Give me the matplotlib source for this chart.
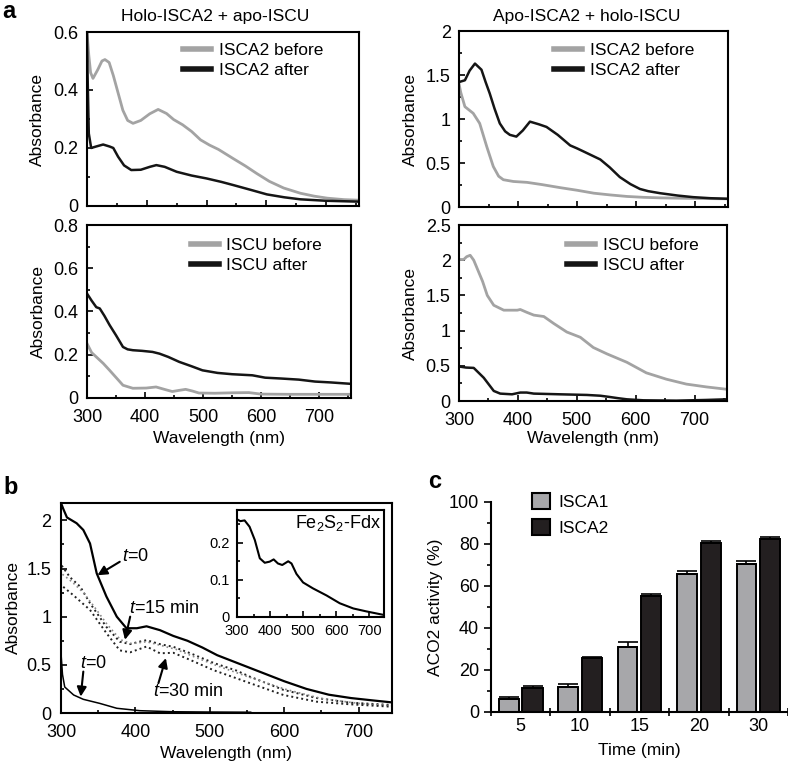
import matplotlib
matplotlib.use('Agg')
from matplotlib import pyplot as plt
from matplotlib.ticker import MultipleLocator, FuncFormatter
from matplotlib.patches import Patch
import numpy as np

plt.rcParams['font.family'] = ['Liberation Sans', 'DejaVu Sans']
plt.rcParams['mathtext.fontset'] = 'custom'
plt.rcParams['mathtext.rm'] = 'Liberation Sans'
plt.rcParams['mathtext.it'] = 'Liberation Sans:italic'
plt.rcParams['font.size'] = 12.5

############################################################################
# Data
############################################################################

# a, top left: holo-ISCA2 + apo-ISCU, ISCA2 spectra
tl_wl_before = [300, 303, 306, 310, 318, 325, 330, 337, 344, 352, 360, 368, 377, 390, 405, 419,
                433, 445, 460, 475, 490, 505, 520, 545, 565, 584, 605, 629, 657, 680, 702, 730, 755]
tl_before = [0.60, 0.52, 0.46, 0.44, 0.47, 0.50, 0.505, 0.495, 0.45, 0.39, 0.33, 0.295, 0.285, 0.295,
             0.318, 0.333, 0.319, 0.298, 0.28, 0.257, 0.228, 0.21, 0.195, 0.163, 0.138, 0.112, 0.085,
             0.062, 0.044, 0.034, 0.027, 0.022, 0.02]
tl_wl_after = [300, 301, 303, 307, 315, 327, 338, 344, 352, 362, 374, 390, 405, 416, 430, 450, 475,
               500, 525, 545, 575, 601, 630, 657, 700, 755]
tl_after = [0.60, 0.45, 0.25, 0.20, 0.205, 0.212, 0.205, 0.20, 0.17, 0.14, 0.124, 0.125, 0.135, 0.141,
            0.135, 0.118, 0.105, 0.095, 0.083, 0.072, 0.055, 0.04, 0.03, 0.023, 0.018, 0.015]

# a, top right: apo-ISCA2 + holo-ISCU, ISCA2 spectra
tr_wl_before = [300, 303, 310, 324, 335, 347, 358, 367, 375, 392, 415, 440, 471, 500, 528, 556, 584,
                612, 640, 700, 755]
tr_before = [1.40, 1.30, 1.14, 1.065, 0.95, 0.685, 0.46, 0.35, 0.31, 0.29, 0.28, 0.255, 0.22, 0.19,
             0.157, 0.137, 0.12, 0.11, 0.104, 0.097, 0.093]
tr_wl_after = [300, 310, 318, 327, 338, 345, 352, 360, 369, 378, 386, 397, 408, 420, 435, 448, 467,
               488, 500, 511, 525, 539, 555, 572, 590, 606, 620, 640, 670, 696, 725, 755]
tr_after = [1.42, 1.44, 1.55, 1.63, 1.56, 1.42, 1.29, 1.12, 0.95, 0.86, 0.82, 0.80, 0.87, 0.97, 0.94,
            0.91, 0.82, 0.70, 0.665, 0.63, 0.585, 0.54, 0.45, 0.34, 0.26, 0.205, 0.18, 0.157, 0.13,
            0.112, 0.10, 0.093]

# a, bottom left: holo-ISCA2 + apo-ISCU, ISCU spectra
bl_wl_before = [300, 308, 316, 328, 339, 350, 362, 379, 402, 419, 436, 447, 458, 470, 482, 493, 520,
                550, 579, 600, 650, 700, 756]
bl_before = [0.252, 0.21, 0.19, 0.16, 0.128, 0.095, 0.059, 0.045, 0.046, 0.051, 0.038, 0.03, 0.035,
             0.04, 0.032, 0.023, 0.022, 0.024, 0.025, 0.018, 0.017, 0.017, 0.017]
bl_wl_after = [300, 308, 316, 322, 330, 339, 350, 362, 370, 379, 395, 413, 425, 440, 459, 480, 499,
               525, 550, 585, 607, 635, 665, 693, 720, 752]
bl_after = [0.483, 0.45, 0.42, 0.414, 0.38, 0.337, 0.29, 0.236, 0.225, 0.221, 0.218, 0.213, 0.205,
            0.19, 0.167, 0.147, 0.128, 0.116, 0.11, 0.105, 0.094, 0.09, 0.085, 0.076, 0.072, 0.066]

# a, bottom right: apo-ISCA2 + holo-ISCU, ISCU spectra
br_wl_before = [300, 308, 313, 319, 325, 331, 340, 348, 359, 376, 399, 404, 415, 427, 444, 461, 483,
                506, 528, 551, 585, 618, 652, 686, 720, 754]
br_before = [2.01, 2.01, 2.05, 2.07, 2.00, 1.88, 1.70, 1.50, 1.36, 1.29, 1.29, 1.30, 1.26, 1.22, 1.20,
             1.10, 0.98, 0.905, 0.76, 0.67, 0.55, 0.40, 0.31, 0.24, 0.20, 0.167]
br_wl_after = [300, 312, 325, 342, 359, 370, 390, 404, 415, 427, 472, 517, 540, 556, 570, 585, 613,
               669, 720, 754]
br_after = [0.49, 0.475, 0.47, 0.33, 0.143, 0.105, 0.095, 0.12, 0.12, 0.105, 0.095, 0.086, 0.075,
            0.057, 0.04, 0.024, 0.01, 0.005, 0.015, 0.024]

# b: main spectra
b_wl_t0 = [300, 303, 308, 321, 330, 339, 348, 361, 375, 388, 402, 415, 433, 451, 470, 490, 510, 540,
           570, 600, 630, 660, 690, 720, 745]
b_t0 = [2.18, 2.12, 2.03, 1.97, 1.90, 1.76, 1.45, 1.21, 1.00, 0.88, 0.88, 0.90, 0.86, 0.80, 0.75,
        0.68, 0.60, 0.51, 0.42, 0.33, 0.25, 0.19, 0.155, 0.13, 0.11]
b_wl_t15 = [301, 312, 326, 339, 361, 379, 393, 405, 415, 433, 451, 474, 505, 536, 554, 599, 644, 689,
            745]
b_t15 = [1.53, 1.41, 1.31, 1.14, 0.894, 0.74, 0.715, 0.74, 0.756, 0.715, 0.687, 0.62, 0.52, 0.44,
         0.377, 0.24, 0.155, 0.107, 0.083]
b_wl_mid = [302, 315, 330, 345, 362, 380, 395, 415, 435, 455, 480, 510, 550, 600, 650, 700, 745]
b_mid = [1.44, 1.36, 1.25, 1.10, 0.92, 0.76, 0.72, 0.74, 0.70, 0.66, 0.58, 0.49, 0.38, 0.25, 0.15,
         0.10, 0.075]
b_wl_t30 = [303, 317, 339, 361, 379, 393, 415, 433, 451, 474, 505, 536, 554, 599, 644, 689, 745]
b_t30 = [1.31, 1.22, 1.07, 0.83, 0.65, 0.63, 0.69, 0.62, 0.625, 0.55, 0.445, 0.36, 0.31, 0.187,
         0.117, 0.09, 0.065]
b_wl_fdx0 = [300, 302, 305, 317, 330, 352, 375, 406, 451, 500, 555]
b_fdx0 = [0.62, 0.40, 0.27, 0.187, 0.142, 0.10, 0.049, 0.024, 0.013, 0.01, 0.008]

# b inset: Fe2S2-Fdx
ins_wl = [302, 310, 323, 338, 354, 369, 384, 399, 411, 424, 437, 455, 465, 480, 500, 530, 571, 611,
          652, 692, 742]
ins_abs = [0.262, 0.258, 0.26, 0.243, 0.207, 0.158, 0.146, 0.149, 0.155, 0.144, 0.14, 0.15, 0.144,
           0.116, 0.093, 0.077, 0.058, 0.037, 0.023, 0.015, 0.006]

# c: ACO2 activity
times = ['5', '10', '15', '20', '30']
isca1 = [6.3, 11.9, 31.0, 65.7, 70.7]
isca1_err = [0.7, 1.5, 2.3, 1.5, 1.3]
isca2 = [11.2, 25.9, 55.4, 80.7, 82.3]
isca2_err = [1.0, 0.3, 1.0, 0.8, 1.2]

############################################################################
# Figure
############################################################################

W, H = 788, 763
fig = plt.figure(figsize=(W / 100, H / 100), dpi=100)

GRAY = '#a3a3a3'
BLACK = '#151515'
TICK_FS = 13
fmt = FuncFormatter(lambda v, p: '%g' % v)


def box(l, t, r, b):
    return fig.add_axes([l / W, 1 - b / H, (r - l) / W, (b - t) / H])


def spec_axes(ax, ymax, ymaj, ymin, xlim=(300, 755)):
    ax.set_xlim(*xlim)
    ax.set_ylim(0, ymax)
    ax.xaxis.set_major_locator(MultipleLocator(100))
    ax.xaxis.set_minor_locator(MultipleLocator(50))
    ax.yaxis.set_major_locator(MultipleLocator(ymaj))
    ax.yaxis.set_minor_locator(MultipleLocator(ymin))
    ax.yaxis.set_major_formatter(fmt)
    ax.tick_params(which='both', direction='in', top=False, right=False, width=1.2)
    ax.tick_params(which='major', length=4, labelsize=TICK_FS)
    ax.tick_params(axis='x', which='major', pad=8)
    ax.tick_params(axis='y', which='major', pad=6)
    ax.tick_params(which='minor', length=2.5)
    for s in ax.spines.values():
        s.set_linewidth(1.5)


def spec_legend(ax, labels, x0, y0):
    leg = ax.legend(labels, loc='upper left', bbox_to_anchor=(x0, y0), frameon=False,
                    borderpad=0, borderaxespad=0, handlelength=1.6, handletextpad=0.45,
                    labelspacing=0.25, fontsize=12.5)
    for ln in leg.get_lines():
        ln.set_linewidth(4)


# ---------------- panel a ----------------
ax = box(87, 32, 359, 206)
ax.plot(tl_wl_before, tl_before, color=GRAY, lw=2)
ax.plot(tl_wl_after, tl_after, color=BLACK, lw=1.8)
spec_axes(ax, 0.6, 0.2, 0.1)
ax.set_xticklabels([])
ax.set_ylabel('Absorbance')
ax.yaxis.set_label_coords(-0.154, 0.5)
spec_legend(ax, ['ISCA2 before', 'ISCA2 after'], 0.353, 0.937)

ax = box(459, 31, 728, 207)
ax.plot(tr_wl_before, tr_before, color=GRAY, lw=2)
ax.plot(tr_wl_after, tr_after, color=BLACK, lw=1.8)
spec_axes(ax, 2, 0.5, 0.25)
ax.set_xticklabels([])
ax.set_ylabel('Absorbance')
ax.yaxis.set_label_coords(-0.152, 0.5)
spec_legend(ax, ['ISCA2 before', 'ISCA2 after'], 0.353, 0.93)

ax = box(87, 225, 351, 398)
ax.plot(bl_wl_before, bl_before, color=GRAY, lw=2)
ax.plot(bl_wl_after, bl_after, color=BLACK, lw=1.8)
spec_axes(ax, 0.8, 0.2, 0.1)
ax.set_ylabel('Absorbance')
ax.yaxis.set_label_coords(-0.156, 0.5)
ax.set_xlabel('Wavelength (nm)')
ax.xaxis.set_label_coords(0.5, -0.19)
spec_legend(ax, ['ISCU before', 'ISCU after'], 0.393, 0.925)

ax = box(459, 225, 727, 401)
ax.plot(br_wl_before, br_before, color=GRAY, lw=2)
ax.plot(br_wl_after, br_after, color=BLACK, lw=1.8)
spec_axes(ax, 2.5, 0.5, 0.25)
ax.set_ylabel('Absorbance')
ax.yaxis.set_label_coords(-0.153, 0.5)
ax.set_xlabel('Wavelength (nm)')
ax.xaxis.set_label_coords(0.5, -0.17)
spec_legend(ax, ['ISCU before', 'ISCU after'], 0.403, 0.926)

fig.text(215 / W, 1 - 17 / H, 'Holo-ISCA2 + apo-ISCU', ha='center', va='center', fontsize=12.5)
fig.text(587 / W, 1 - 17 / H, 'Apo-ISCA2 + holo-ISCU', ha='center', va='center', fontsize=12.5)

# ---------------- panel b ----------------
ax = box(61, 503, 392, 713)
ax.plot(b_wl_t0, b_t0, color='k', lw=1.6)
ax.plot(b_wl_t15, b_t15, color='#222222', lw=1.4, ls=(0, (1, 1.6)))
ax.plot(b_wl_mid, b_mid, color='#8a8a8a', lw=1.2, ls=(0, (1, 1.8)))
ax.plot(b_wl_t30, b_t30, color='#222222', lw=1.4, ls=(0, (1, 1.6)))
ax.plot(b_wl_fdx0, b_fdx0, color='k', lw=1.1)
spec_axes(ax, 2.18, 0.5, 0.25, xlim=(300, 745))
ax.tick_params(axis='x', which='major', pad=8)
ax.tick_params(axis='y', which='major', pad=7)
ax.set_ylabel('Absorbance')
ax.yaxis.set_label_coords(-0.122, 0.5)
ax.set_xlabel('Wavelength (nm)')
ax.xaxis.set_label_coords(0.5, -0.155)

arrow = dict(arrowstyle='-|>', color='k', lw=1.5, mutation_scale=14, shrinkA=0, shrinkB=0)
ax.annotate('', xy=(349, 1.43), xytext=(379, 1.57), arrowprops=arrow)
ax.text(382, 1.62, '$t$=0', ha='left', va='center', fontsize=13)
ax.annotate('', xy=(386, 0.76), xytext=(393, 1.0), arrowprops=arrow)
ax.text(392, 1.085, '$t$=15 min', ha='left', va='center', fontsize=13)
ax.annotate('', xy=(441, 0.57), xytext=(431, 0.31), arrowprops=arrow)
ax.text(424, 0.22, '$t$=30 min', ha='left', va='center', fontsize=13)
ax.annotate('', xy=(326.5, 0.17), xytext=(330, 0.43), arrowprops=arrow)
ax.text(325, 0.515, '$t$=0', ha='left', va='center', fontsize=13)

axi = box(237, 510, 384, 617)
axi.plot(ins_wl, ins_abs, color='k', lw=1.5)
spec_axes(axi, 0.288, 0.1, 0.05, xlim=(300, 745))
axi.tick_params(which='major', labelsize=10.5)
axi.tick_params(axis='x', which='major', pad=5)
axi.tick_params(axis='y', which='major', pad=5)
axi.text(0.984, 0.875, 'Fe$_2$S$_2$-Fdx', transform=axi.transAxes, ha='right', va='center',
         fontsize=13)

# ---------------- panel c ----------------
ax = box(491, 502, 788, 712)
x = np.arange(len(times))
ax.bar(x - 0.2, isca1, width=0.33, color='#a7a7aa', edgecolor='k', lw=1.4, label='ISCA1')
ax.bar(x + 0.2, isca2, width=0.34, color='#231f20', edgecolor='k', lw=1.4, label='ISCA2')
ax.errorbar(x - 0.2, isca1, yerr=[np.zeros(len(x)), isca1_err], fmt='none', ecolor='k',
            elinewidth=1.2, capsize=7, capthick=1.2)
ax.errorbar(x + 0.2, isca2, yerr=[np.zeros(len(x)), isca2_err], fmt='none', ecolor='k',
            elinewidth=1.2, capsize=7, capthick=1.2)
ax.set_xlim(-0.5, 4.5)
ax.set_ylim(0, 100)
ax.set_xticks(np.arange(-0.5, 5, 1))
ax.set_xticklabels([])
ax.set_xticks(x, minor=True)
ax.set_xticklabels(times, minor=True)
ax.tick_params(axis='x', which='major', direction='inout', length=6, width=1.2)
ax.tick_params(axis='x', which='minor', length=0, pad=4, labelsize=TICK_FS)
ax.yaxis.set_major_locator(MultipleLocator(20))
ax.yaxis.set_minor_locator(MultipleLocator(10))
ax.tick_params(axis='y', which='both', direction='out', width=1.2, labelsize=TICK_FS)
ax.tick_params(axis='y', which='major', length=5)
ax.tick_params(axis='y', which='minor', length=3)
for s in ['top', 'right']:
    ax.spines[s].set_visible(False)
for s in ['left', 'bottom']:
    ax.spines[s].set_linewidth(1.5)
ax.set_ylabel('ACO2 activity (%)')
ax.yaxis.set_label_coords(-0.162, 0.5)
ax.set_xlabel('Time (min)')
ax.xaxis.set_label_coords(0.5, -0.148)
handles = [Patch(facecolor='#a7a7aa', edgecolor='k', lw=1.5, label='ISCA1'),
           Patch(facecolor='#231f20', edgecolor='k', lw=1.5, label='ISCA2')]
ax.legend(handles=handles, loc='upper left', bbox_to_anchor=(0.137, 1.044), frameon=False,
          borderpad=0, borderaxespad=0, handlelength=1.05, handleheight=1.05,
          handletextpad=0.5, labelspacing=0.55, fontsize=12.5)

# panel letters
fig.text(2 / W, 1 - 11 / H, 'a', fontsize=17, fontweight='bold', va='center')
fig.text(3 / W, 1 - 487 / H, 'b', fontsize=17, fontweight='bold', va='center')
fig.text(428 / W, 1 - 481 / H, 'c', fontsize=17, fontweight='bold', va='center')

fig.savefig('out.png', dpi=100)
